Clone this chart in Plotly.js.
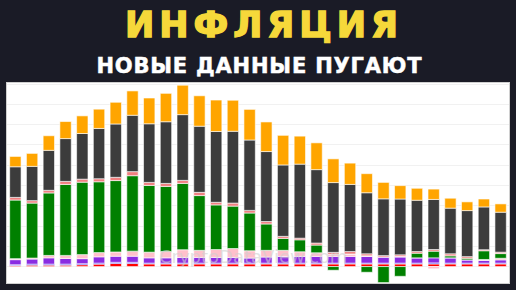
<!DOCTYPE html>
<html>
<head>
<meta charset="utf-8">
<script src="https://cdn.plot.ly/plotly-3.0.1.min.js"></script>
<style>
html,body{margin:0;padding:0;background:#1a1b26;}
#chart{width:516px;height:290px;}
</style>
</head>
<body>
<div id="chart"></div>
<script>
// Months: Aug 2021 .. Jan 2024 (contributions to CPI, percentage points)
const months = ["2021-08","2021-09","2021-10","2021-11","2021-12","2022-01","2022-02","2022-03","2022-04","2022-05","2022-06","2022-07","2022-08","2022-09","2022-10","2022-11","2022-12","2023-01","2023-02","2023-03","2023-04","2023-05","2023-06","2023-07","2023-08","2023-09","2023-10","2023-11","2023-12","2024-01"];

const redVals    = [0.05,0.07,0.07,0.07,0.09,0.12,0.15,0.15,0.13,0.13,0.13,0.13,0.13,0.13,0.13,0.13,0.13,0.13,0.13,0.13,0.13,0.13,0.13,0.13,0.13,0.13,0.13,0.13,0.13,0.13];
const blueVals   = [0.04,0.05,0.05,0.05,0.05,0.05,0.06,0.06,0.04,0.04,0.04,0.04,0.04,0.04,0.04,0.04,0.04,0.04,0.04,0.04,0.04,0.04,0.04,0.04,0.04,0.05,0.04,0.04,0.04,0.04];
const purpleVals = [0.25,0.25,0.31,0.28,0.25,0.31,0.30,0.30,0.26,0.26,0.28,0.28,0.28,0.28,0.25,0.30,0.33,0.33,0.33,0.33,0.33,0.33,0.30,0.30,0.26,0.25,0.26,0.16,0.13,0.16];
const pinkVals   = [0.05,0.05,0.12,0.15,0.20,0.21,0.21,0.25,0.28,0.31,0.38,0.35,0.39,0.44,0.36,0.33,0.30,0.23,0.18,0.10,0.12,0.03,0.00,0.03,0.00,-0.11,0.00,0.00,0.05,0.08];
const greenVals  = [2.89,2.71,3.08,3.50,3.57,3.49,3.52,3.72,3.29,3.21,3.27,2.70,2.20,2.09,1.86,1.30,0.59,0.59,0.38,-0.18,0.00,-0.28,-0.79,-0.48,0.23,0.33,0.10,0.08,0.43,0.23];
const salmonVals = [0.13,0.12,0.13,0.15,0.15,0.15,0.16,0.20,0.15,0.15,0.15,0.16,0.13,0.15,0.13,0.12,0.10,0.08,0.10,0.10,0.12,0.10,0.07,0.08,0.08,0.08,0.10,0.08,0.05,0.07];
const grayVals   = [1.51,1.69,1.97,2.11,2.25,2.48,2.63,2.78,2.89,3.04,3.24,3.26,3.49,3.54,3.47,3.45,3.52,3.65,3.62,3.44,3.31,3.01,2.80,2.75,2.53,2.47,2.25,2.27,2.11,1.97];
const orangeVals = [0.51,0.64,0.72,0.84,0.87,0.95,1.07,1.20,1.27,1.40,1.45,1.50,1.55,1.53,1.51,1.46,1.46,1.38,1.32,1.17,1.05,0.94,0.81,0.66,0.59,0.51,0.49,0.43,0.39,0.41];

const seriesNames  = ["Red","Blue","Purple","Pink","Green","Salmon","Gray","Orange"];
const seriesColors = ["#ff0000","#0000ff","#8a2be2","#ffc0cb","#008000","#f08080","#3c3c3c","#ffa500"];
const seriesValues = [redVals,blueVals,purpleVals,pinkVals,greenVals,salmonVals,grayVals,orangeVals];

const titleText = "ИНФЛЯЦИЯ";
const subtitleText = "НОВЫЕ ДАННЫЕ ПУГАЮТ";
const watermarkText = "CryptoDataView.com";

const traces = seriesValues.map((vals,i)=>({
  type:"bar",
  name:seriesNames[i],
  x:months,
  y:vals,
  marker:{color:seriesColors[i], line:{color:"#ffffff", width:0.6}},
  hoverinfo:"skip"
}));

const layout = {
  width:516, height:290,
  margin:{l:7,r:7,t:83,b:7,pad:0},
  paper_bgcolor:"#1a1b26",
  plot_bgcolor:"#ffffff",
  barmode:"relative",
  bargap:0.32,
  showlegend:false,
  xaxis:{type:"category", showticklabels:false, showgrid:false, zeroline:false, ticks:"",
         range:[-0.5,29.5], showline:true, mirror:true, linecolor:"#d0d0d0", linewidth:1},
  yaxis:{range:[-0.81,9.05], dtick:1, tick0:0, showticklabels:false, ticks:"",
         showgrid:true, gridcolor:"#f1f1f1", gridwidth:1, zeroline:false,
         showline:true, mirror:true, linecolor:"#d0d0d0", linewidth:1},
  annotations:[
    {text:"<b>"+titleText+"</b>", xref:"paper", yref:"paper", x:0.512, y:1.29, xanchor:"center", yanchor:"middle",
     showarrow:false, font:{family:"DejaVu Sans", size:35, color:"#f6d83a"}},
    {text:"<b>"+subtitleText+"</b>", xref:"paper", yref:"paper", x:0.503, y:1.085, xanchor:"center", yanchor:"middle",
     showarrow:false, font:{family:"DejaVu Sans", size:21, color:"#ffffff"}},
    {text:watermarkText, xref:"paper", yref:"paper", x:0.49, y:0.135, xanchor:"center", yanchor:"middle",
     showarrow:false, opacity:0.6, font:{family:"DejaVu Sans", size:18, color:"#d0d0d0"}}
  ]
};

Plotly.newPlot("chart", traces, layout, {staticPlot:true, displayModeBar:false}).then(()=>{
  const texts = document.querySelectorAll("#chart .annotation-text");
  if (texts[0]) {
    texts[0].style.letterSpacing = "5px";
    texts[0].style.stroke = "#f6d83a";
    texts[0].style.strokeWidth = "1.4px";
  }
  if (texts[1]) {
    texts[1].style.letterSpacing = "0.8px";
    texts[1].style.stroke = "#ffffff";
    texts[1].style.strokeWidth = "0.5px";
  }
});
</script>
</body>
</html>
